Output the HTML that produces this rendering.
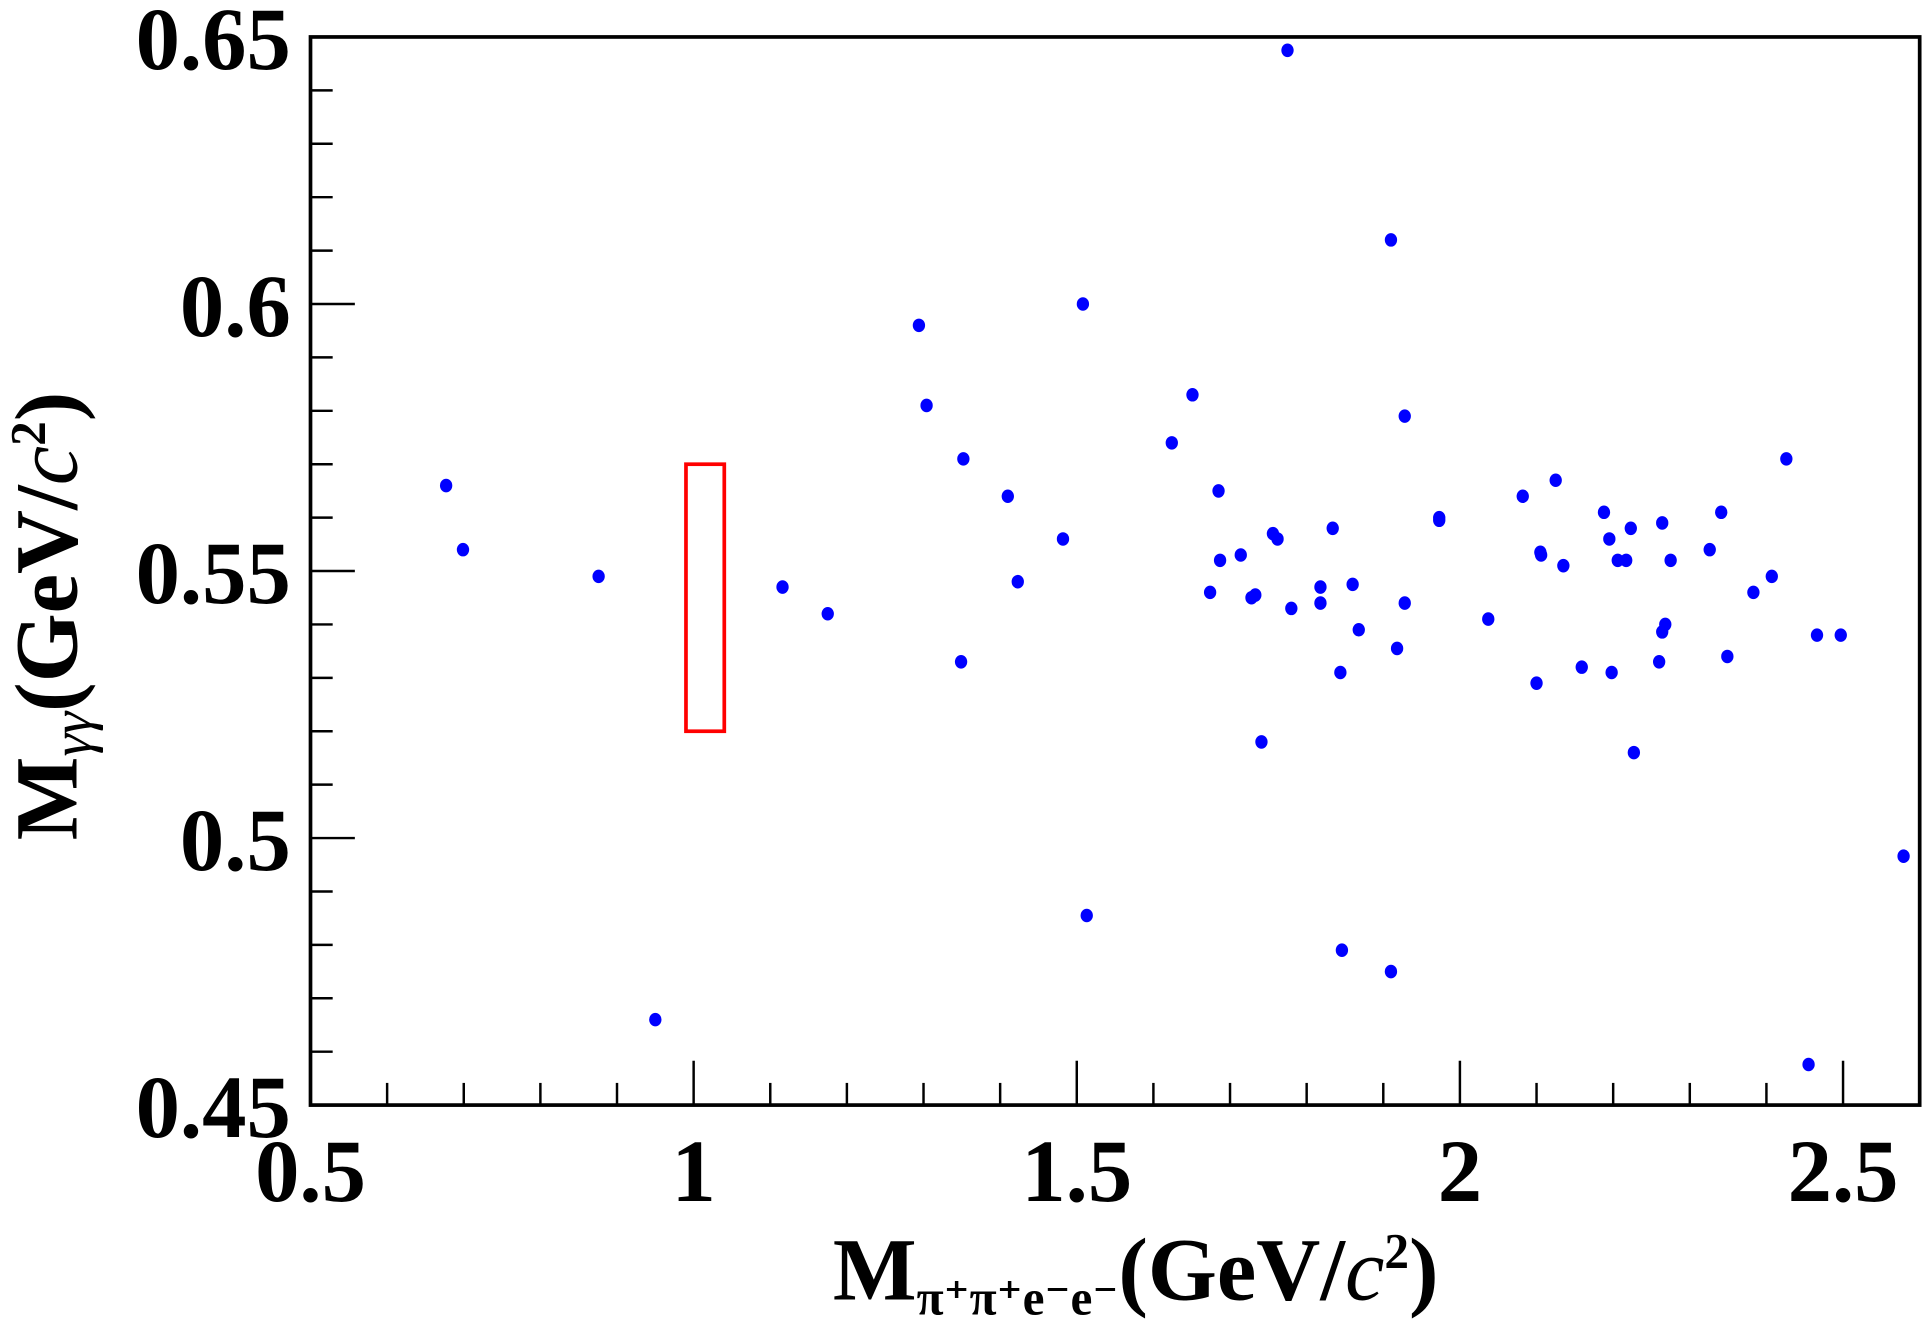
<!DOCTYPE html>
<html><head><meta charset="utf-8"><style>
html,body{margin:0;padding:0;background:#fff;}
svg{display:block;}
text{font-family:"Liberation Serif","DejaVu Serif",serif;font-weight:bold;fill:#000;}
</style></head><body>
<svg id="chart" width="1932" height="1333" viewBox="0 0 1568 1082" preserveAspectRatio="none" xmlns="http://www.w3.org/2000/svg">
<g id="axes"></g>
<g id="marks"></g>
<rect x="252" y="30" width="1306" height="867" fill="none" stroke="#000" stroke-width="3"/>
<text x="676" y="1055" font-size="72">M<tspan font-size="40" dy="12">π⁺π⁺e⁻e⁻</tspan><tspan dy="-12">(GeV/</tspan><tspan font-style="italic" font-weight="normal">c</tspan><tspan font-size="40" dy="-26">2</tspan><tspan dy="26">)</tspan></text>
<text transform="translate(62,682) rotate(-90)" font-size="72">M<tspan font-size="46" dy="12" font-style="italic" font-weight="normal">γγ</tspan><tspan dy="-12">(GeV/</tspan><tspan font-style="italic" font-weight="normal">c</tspan><tspan font-size="40" dy="-26">2</tspan><tspan dy="26">)</tspan></text>
</svg>
<script>
const xTicks = [0.5, 1, 1.5, 2, 2.5];
const xTickLabels = ["0.5", "1", "1.5", "2", "2.5"];
const yTicks = [0.45, 0.5, 0.55, 0.6, 0.65];
const yTickLabels = ["0.45", "0.5", "0.55", "0.6", "0.65"];
const xValues = [0.677,0.699,0.876,0.950,1.116,1.175,1.294,1.304,1.352,1.349,1.410,1.423,1.482,1.508,1.513,1.624,1.651,1.674,1.685,1.687,1.714,1.728,1.733,1.741,1.756,1.762,1.775,1.780,1.818,1.818,1.834,1.844,1.846,1.860,1.868,1.910,1.910,1.918,1.928,1.928,1.973,1.973,2.037,2.082,2.100,2.105,2.106,2.125,2.135,2.159,2.188,2.195,2.198,2.206,2.217,2.223,2.227,2.260,2.264,2.264,2.268,2.275,2.326,2.341,2.349,2.383,2.407,2.426,2.455,2.466,2.497,2.579];
const yValues = [0.566,0.554,0.549,0.466,0.547,0.542,0.596,0.581,0.571,0.533,0.564,0.548,0.556,0.600,0.4855,0.574,0.583,0.546,0.565,0.552,0.553,0.545,0.5455,0.518,0.557,0.556,0.6475,0.543,0.547,0.544,0.558,0.531,0.479,0.5475,0.539,0.612,0.475,0.5355,0.579,0.544,0.560,0.5595,0.541,0.564,0.529,0.5535,0.553,0.567,0.551,0.532,0.561,0.556,0.531,0.552,0.552,0.558,0.516,0.533,0.5386,0.559,0.540,0.552,0.554,0.561,0.534,0.546,0.549,0.571,0.4576,0.538,0.538,0.4966];
const boxX = [0.99, 1.04];
const boxY = [0.52, 0.57];

const NS = "http://www.w3.org/2000/svg";
const X0 = 252, X1 = 1558, Y0 = 30, Y1 = 897;
const xMin = 0.5, xMax = 2.6, yMin = 0.45, yMax = 0.65;
function sx(v){ return X0 + (v - xMin) / (xMax - xMin) * (X1 - X0); }
function sy(v){ return Y1 - (v - yMin) / (yMax - yMin) * (Y1 - Y0); }
function mk(tag, attrs, parent){ const e = document.createElementNS(NS, tag); for (const k in attrs) e.setAttribute(k, attrs[k]); parent.appendChild(e); return e; }
const axes = document.getElementById('axes');
const marks = document.getElementById('marks');

for (let i = 6; i <= 25; i++) {
  const v = i / 10; const major = (i % 5 === 0);
  const t = mk('line', {x1: sx(v), x2: sx(v), y1: Y1, y2: Y1 - (major ? 36 : 18), stroke: '#000', 'stroke-width': 2}, axes);
  
  
}
for (let i = 46; i <= 64; i++) {
  const v = i / 100; const major = (i % 5 === 0);
  const t = mk('line', {x1: X0, x2: X0 + (major ? 36 : 18), y1: sy(v), y2: sy(v), stroke: '#000', 'stroke-width': 2}, axes);
  
  
}
xTicks.forEach((v, i) => {
  const t = mk('text', {x: sx(v), y: 975, 'font-size': 72, 'text-anchor': 'middle'}, axes);
  t.textContent = xTickLabels[i];
  
  
});
yTicks.forEach((v, i) => {
  const t = mk('text', {x: 236, y: sy(v) + 26, 'font-size': 72, 'text-anchor': 'end'}, axes);
  t.textContent = yTickLabels[i];
  
  
});
const box = mk('rect', {x: sx(boxX[0]), y: sy(boxY[1]), width: sx(boxX[1]) - sx(boxX[0]), height: sy(boxY[0]) - sy(boxY[1]), fill: 'none', stroke: '#ff0000', 'stroke-width': 3}, marks);


xValues.forEach((xv, i) => {
  const c = mk('ellipse', {cx: sx(xv), cy: sy(yValues[i]), rx: 5, ry: 5.5, fill: '#0000ff'}, marks);
  
  
});
</script>
</body></html>
